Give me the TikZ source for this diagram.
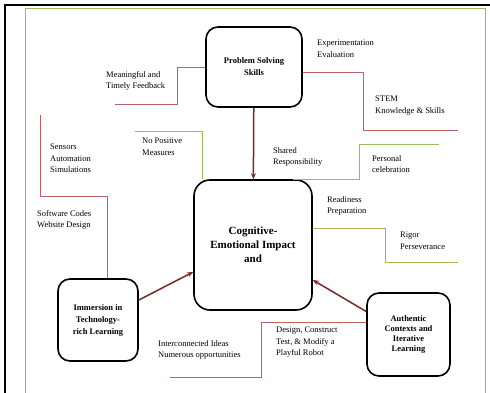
\documentclass[tikz,border=0pt]{standalone}
\usepackage{fontspec}
\setmainfont{Liberation Serif}
\usetikzlibrary{arrows.meta}

\definecolor{linkred}{RGB}{185,100,100}
\definecolor{linkgreen}{RGB}{155,187,89}
\definecolor{arrowred}{RGB}{120,40,40}

\begin{document}
\begin{tikzpicture}[
        x=1pt,
        y=-1pt,
        box/.style={
            rectangle,
            rounded corners=12pt,
            draw=black,
            line width=1.6pt,
            inner sep=0pt,
            align=center,
            font=\fontsize{8.5}{12}\selectfont\bfseries,
        },
        bigbox/.style={
            rounded corners=16pt,
            font=\fontsize{11}{14}\selectfont\bfseries,
        },
        note/.style={
            anchor=north west,
            align=left,
            inner sep=0pt,
            font=\fontsize{8.5}{11.5}\selectfont,
        },
        redlink/.style={
            draw=linkred,
            line width=0.9pt,
        },
        greenlink/.style={
            draw=linkgreen,
            line width=0.9pt,
        },
        arrow/.style={
            draw=arrowred,
            line width=1.5pt,
            -{Stealth[length=6pt,width=5pt]},
        },
    ]
        \useasboundingbox (0,0) rectangle (490,393);

        % frame
        \draw [line width=2pt] (5,393) -- (5,5) -- (490,5);
        \draw [linkgreen, line width=1pt] (25,393) -- (25,9) -- (485,9) -- (485,393);

        % boxes
        \node [box, minimum width=96pt, minimum height=80pt] (ps) at (254,67) {Problem Solving\\Skills};
        \node [box, bigbox, minimum width=118pt, minimum height=130pt] (cog) at (253,245) {Cognitive-\\Emotional Impact\\and};
        \node [box, minimum width=80pt, minimum height=82pt] (imm) at (98,320) {Immersion in\\Technology-\\rich Learning};
        \node [box, minimum width=83pt, minimum height=83pt, font=\fontsize{8.5}{10}\selectfont\bfseries] (auth) at (408.5,334.5) {Authentic\\Contexts and\\Iterative\\Learning};

        % free ends
        \coordinate (feedback) at (115,104);
        \coordinate (stem) at (458,130);
        \coordinate (sensors) at (40,115);
        \coordinate (ideas) at (170,377);
        \coordinate (nopos) at (135,131);
        \coordinate (celeb) at (439,144);
        \coordinate (rigor) at (458,262);

        % links
        \draw [redlink] (ps.west) -- ++(-28,0) |- (feedback);
        \draw [redlink] ([yshift=-5pt]ps.east) -- ++(61,0) |- (stem);
        \draw [redlink] ([xshift=9pt]imm.north) -- ++(0,-82) -| (sensors);
        \draw [redlink] ([yshift=12pt]auth.west) -- ++(-105,0) |- (ideas);
        \draw [greenlink] ([xshift=-51pt]cog.north) |- (nopos);
        \draw [greenlink] ([xshift=40pt]cog.north) -- ++(66,0) |- (celeb);
        \draw [greenlink] ([yshift=17pt]cog.east) -- ++(73,0) |- (rigor);

        % arrows
        \draw [arrow] (ps) -- (cog);
        \draw [arrow] ([yshift=20pt]imm.east) -- ([yshift=-27pt]cog.west);
        \draw [arrow] ([yshift=23pt]auth.west) -- ([yshift=-35pt]cog.east);

        % labels
        \node [note] (exp) at (317,40) {Experimentation\\Evaluation};
        \node [note] (mtf) at (106,71) {Meaningful and\\Timely Feedback};
        \node [note] (stemtxt) at (375,96) {STEM\\Knowledge \& Skills};
        \node [note] (sens) at (50,144) {Sensors\\Automation\\Simulations};
        \node [note] (npm) at (142,138) {No Positive\\Measures};
        \node [note] (soft) at (37,210) {Software Codes\\Website Design};
        \node [note] (shared) at (273,147) {Shared\\Responsibility};
        \node [note] (pers) at (372,155) {Personal\\celebration};
        \node [note] (ready) at (327,196) {Readiness\\Preparation};
        \node [note] (rig) at (400,232) {Rigor\\Perseverance};
        \node [note] (inter) at (158,340) {Interconnected Ideas\\Numerous opportunities};
        \node [note] (robot) at (276,327) {Design, Construct\\Test, \& Modify a\\Playful Robot};
    \end{tikzpicture}
\end{document}
